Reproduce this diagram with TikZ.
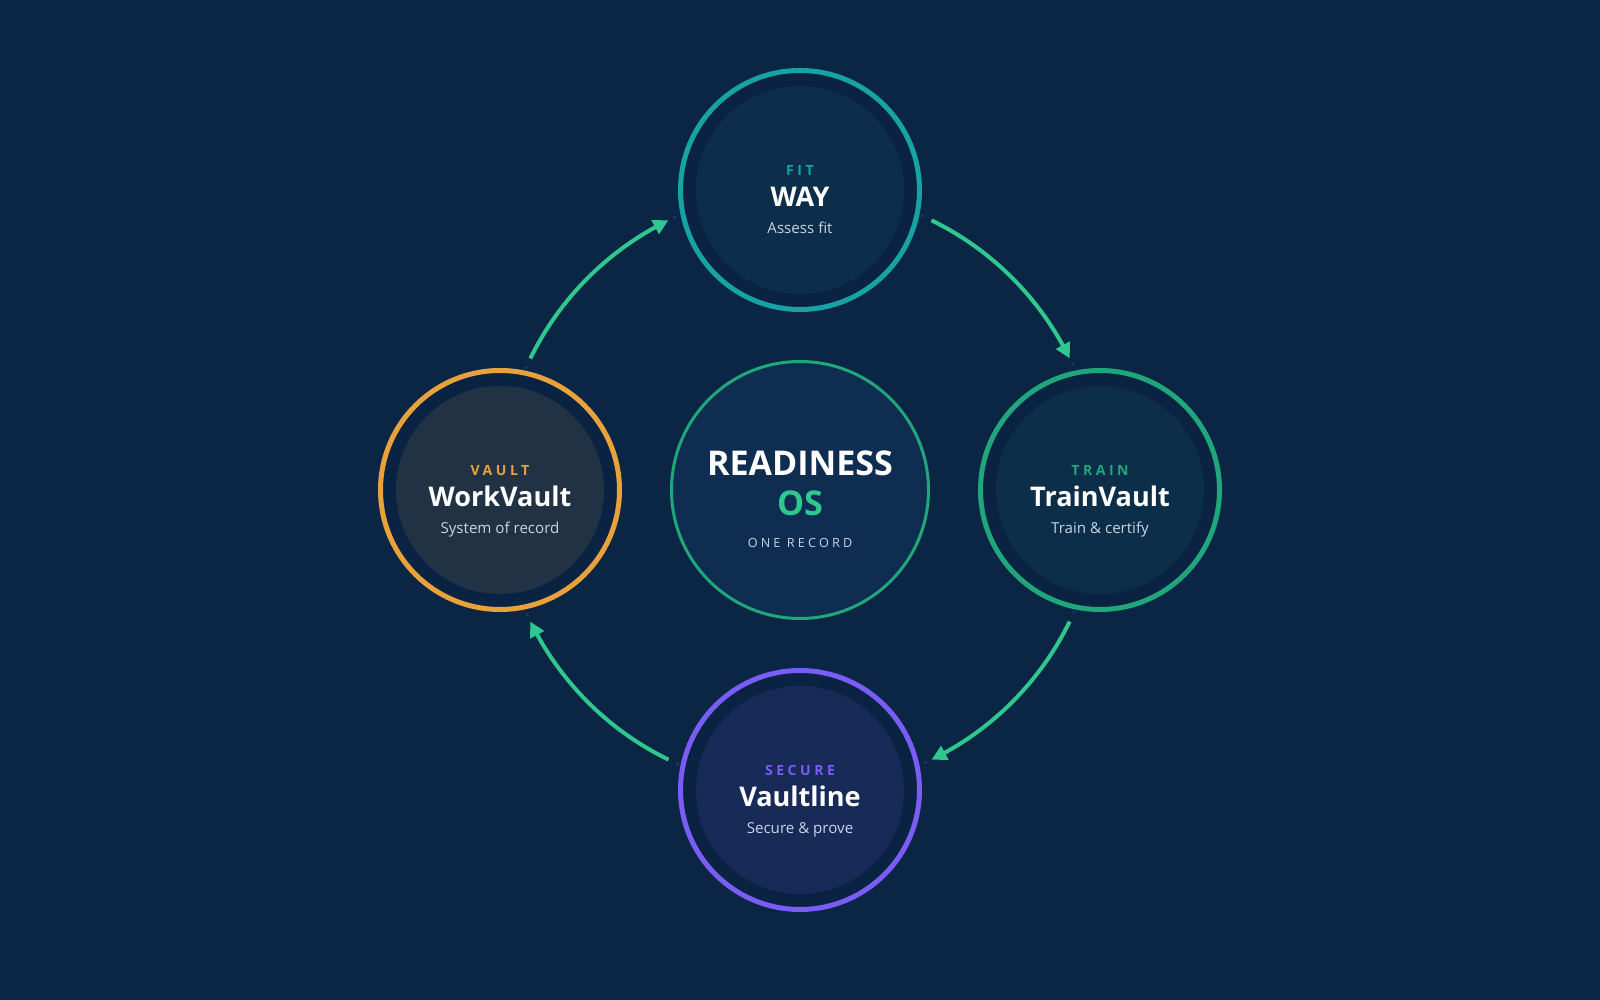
\documentclass[tikz,border=0pt]{standalone}
\usepackage{fontspec}
\setmainfont{Open Sans}
\newfontfamily\tagfont[LetterSpace=25]{Open Sans}
\usetikzlibrary{arrows.meta,bending}

\definecolor{bg}{HTML}{0B2545}
\definecolor{gap}{HTML}{0B2343}
\definecolor{dotc}{HTML}{1E3C66}
\definecolor{flowc}{HTML}{2EC88E}
\definecolor{subc}{HTML}{C8D4E3}
\definecolor{fitc}{HTML}{17A3A3}
\definecolor{fitfill}{HTML}{0C2E4B}
\definecolor{trainc}{HTML}{1FA77B}
\definecolor{trainfill}{HTML}{0C2E48}
\definecolor{securec}{HTML}{7A5CF6}
\definecolor{securefill}{HTML}{172A58}
\definecolor{vaultc}{HTML}{E9A23B}
\definecolor{vaultfill}{HTML}{213245}
\definecolor{hubfill}{HTML}{0F2C51}
\definecolor{hubring}{HTML}{1FA77B}

\begin{document}
\begin{tikzpicture}[
  ring/.style={circle, draw=#1, line width=0.05cm, fill=gap, minimum size=2.39cm, inner sep=0pt},
  core/.style={path picture={\fill[#1] (path picture bounding box.center) circle (1.04cm);}},
  tag/.style={anchor=base, font=\tagfont\bfseries\fontsize{4pt}{5pt}\selectfont},
  title/.style={anchor=base, text=white, font=\bfseries\fontsize{7.7pt}{9pt}\selectfont},
  sub/.style={anchor=base, text=subc, font=\fontsize{4.3pt}{5pt}\selectfont},
  flow/.style={draw=flowc, line width=0.04cm, -{Triangle[length=0.15cm, width=0.15cm, bend]}},
  pin/.style={fill=dotc}
]
  \useasboundingbox[fill=bg] (-8,-5.1) rectangle (8,4.9);

  \coordinate (hub-c) at (0,0);

  % centre
  \node[circle, draw=hubring, line width=0.03cm, fill=hubfill, minimum size=2.57cm, inner sep=0pt] (hub) at (0,0) {};
  \node[title, font=\bfseries\fontsize{9.7pt}{11pt}\selectfont] (hub-a) at ([yshift=0.14cm]hub) {READINESS};
  \node[title, text=flowc, font=\bfseries\fontsize{9.7pt}{11pt}\selectfont] (hub-b) at ([yshift=-0.26cm]hub) {OS};
  \node[sub, font=\tagfont\fontsize{3.6pt}{4pt}\selectfont] (hub-sub) at ([yshift=-0.58cm]hub) {ONE RECORD};

  % satellites
  \node[ring=fitc, core=fitfill] (way) at (0, 3) {};
  \node[ring=trainc, core=trainfill] (train) at (3, 0) {};
  \node[ring=securec, core=securefill] (line) at (0, -3) {};
  \node[ring=vaultc, core=vaultfill] (work) at (-3, 0) {};

  \node[tag, text=fitc] (way-tag) at ([yshift=0.14cm]way) {FIT};
  \node[title] (way-title) at ([yshift=-0.17cm]way) {WAY};
  \node[sub] (way-sub) at ([yshift=-0.44cm]way) {Assess fit};

  \node[tag, text=trainc] (train-tag) at ([yshift=0.14cm]train) {TRAIN};
  \node[title] (train-title) at ([yshift=-0.17cm]train) {TrainVault};
  \node[sub] (train-sub) at ([yshift=-0.44cm]train) {Train \& certify};

  \node[tag, text=securec] (line-tag) at ([yshift=0.14cm]line) {SECURE};
  \node[title] (line-title) at ([yshift=-0.17cm]line) {Vaultline};
  \node[sub] (line-sub) at ([yshift=-0.44cm]line) {Secure \& prove};

  \node[tag, text=vaultc] (work-tag) at ([yshift=0.14cm]work) {VAULT};
  \node[title] (work-title) at ([yshift=-0.17cm]work) {WorkVault};
  \node[sub] (work-sub) at ([yshift=-0.44cm]work) {System of record};

  % faint marks in the gaps
  \fill[pin] (155.9:3) circle (0.016);
  \fill[pin] (114.7:3) circle (0.016);
  \fill[pin] (65.9:3) circle (0.016);
  \fill[pin] (24.7:3) circle (0.016);
  \fill[pin] (-24.1:3) circle (0.016);
  \fill[pin] (-65.3:3) circle (0.016);
  \fill[pin] (-114.1:3) circle (0.016);
  \fill[pin] (-155.3:3) circle (0.016);

  % cycle
  \coordinate (work-out) at ([shift={(154:3)}]hub-c);
  \coordinate (way-out) at ([shift={(64:3)}]hub-c);
  \coordinate (train-out) at ([shift={(-26:3)}]hub-c);
  \coordinate (line-out) at ([shift={(-116:3)}]hub-c);
  \draw[flow] (work-out) arc[start angle=154, end angle=116, radius=3];
  \draw[flow] (way-out) arc[start angle=64, end angle=26, radius=3];
  \draw[flow] (train-out) arc[start angle=-26, end angle=-64, radius=3];
  \draw[flow] (line-out) arc[start angle=-116, end angle=-154, radius=3];
\end{tikzpicture}
\end{document}
